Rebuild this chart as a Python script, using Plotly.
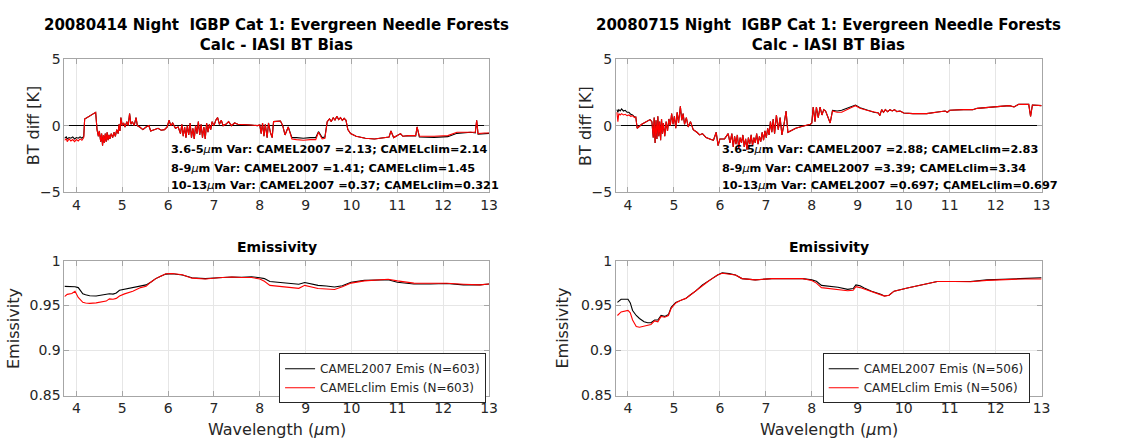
import plotly.graph_objects as go

# ---------------- data ----------------
# Top-left: 20080414 BT bias [K]
tl_wl = [3.74,3.78,3.80,3.84,3.88,3.92,3.96,4.00,4.04,4.08,
         4.12,4.16,4.18,4.30,4.42,4.45,4.48,4.50,4.53,4.55,
         4.57,4.59,4.61,4.63,4.65,4.67,4.69,4.71,4.73,4.76,
         4.79,4.82,4.85,4.88,4.91,4.93,4.95,4.97,5.00,5.03,
         5.06,5.10,5.13,5.16,5.19,5.22,5.26,5.30,5.33,5.38,
         5.45,5.52,5.58,5.62,5.70,5.78,5.85,5.92,5.98,6.02,
         6.06,6.10,6.16,6.22,6.27,6.30,6.33,6.36,6.39,6.42,
         6.45,6.48,6.51,6.54,6.57,6.60,6.63,6.66,6.69,6.72,
         6.75,6.78,6.81,6.84,6.87,6.90,6.93,6.96,7.00,7.04,
         7.08,7.12,7.16,7.20,7.26,7.32,7.38,7.45,7.52,7.65,
         7.80,7.95,8.00,8.03,8.06,8.09,8.12,8.16,8.19,8.23,
         8.27,8.30,8.45,8.50,8.55,8.62,8.70,8.80,8.95,9.10,
         9.22,9.28,9.36,9.42,9.47,9.52,9.56,9.60,9.64,9.68,
         9.72,9.76,9.80,9.84,9.88,9.92,9.98,10.10,10.30,10.50,
         10.70,10.82,10.86,10.92,11.07,11.12,11.25,11.40,11.43,11.48,
         11.80,12.10,12.30,12.50,12.60,12.70,12.73,12.76,12.90,13.00]
tl_clim = [-1.10,-1.00,-1.20,-1.00,-1.15,-1.05,-1.20,-1.05,-1.15,-1.00,
           -1.10,-0.90,0.50,0.75,1.00,-0.30,-0.80,-0.40,-1.20,-0.60,
           -1.50,-0.70,-1.30,-0.60,-1.20,-0.50,-1.10,-0.70,-1.00,-0.60,
           -0.90,-0.50,-0.80,-0.30,-0.60,0.10,-0.40,0.60,0.00,0.20,
           -0.10,0.30,0.00,0.90,0.10,0.30,0.00,0.60,0.00,-0.10,
           -0.30,-0.10,0.00,-0.40,-0.30,-0.20,-0.35,-0.30,-0.10,0.40,
           0.00,0.20,-0.20,-0.10,-0.60,0.10,-0.80,-0.10,-0.90,0.00,
           -0.70,0.20,-0.90,-0.20,-1.00,0.00,-0.60,0.30,-0.70,0.10,
           -0.90,-0.10,-1.00,0.20,-0.50,0.10,-0.30,0.30,0.00,0.40,
           0.60,0.10,0.40,0.00,0.10,0.30,0.00,0.20,0.10,0.10,
           0.05,0.00,0.05,-0.60,0.20,-0.80,0.10,-0.90,0.20,-0.50,
           -0.90,0.30,0.35,0.00,-0.70,-0.10,-1.00,-1.05,-1.10,-1.05,
           -1.05,-0.50,-1.00,-0.95,0.30,0.50,0.30,0.60,0.40,0.70,
           0.45,0.60,0.40,0.55,0.40,-0.30,-0.60,-0.80,-0.95,-1.00,
           -0.90,-0.85,-0.40,-0.90,-0.60,-0.80,-0.75,-0.75,-0.10,-0.80,
           -0.80,-0.75,-0.50,-0.50,-0.45,-0.50,0.40,-0.60,-0.55,-0.55]
tl_2007 = [-0.95,-0.85,-1.00,-0.90,-0.95,-0.85,-1.00,-0.90,-0.95,-0.85,
           -0.95,-0.80,0.50,0.75,1.00,-0.30,-0.80,-0.40,-1.20,-0.60,
           -1.50,-0.70,-1.30,-0.60,-1.20,-0.50,-1.10,-0.70,-1.00,-0.60,
           -0.90,-0.50,-0.80,-0.30,-0.60,0.10,-0.40,0.60,0.00,0.20,
           -0.10,0.30,0.00,0.90,0.10,0.30,0.00,0.60,0.00,-0.10,
           -0.30,-0.10,0.00,-0.40,-0.30,-0.20,-0.35,-0.30,-0.10,0.40,
           0.00,0.20,-0.20,-0.10,-0.60,0.10,-0.80,-0.10,-0.90,0.00,
           -0.70,0.20,-0.90,-0.20,-1.00,0.00,-0.60,0.30,-0.70,0.10,
           -0.90,-0.10,-1.00,0.20,-0.50,0.10,-0.30,0.30,0.00,0.40,
           0.60,0.10,0.40,0.00,0.10,0.30,0.00,0.20,0.10,0.10,
           0.05,0.00,0.05,-0.60,0.20,-0.80,0.10,-0.90,0.20,-0.50,
           -0.90,0.30,0.35,0.00,-0.70,-0.10,-0.90,-0.90,-0.95,-0.90,
           -0.90,-0.45,-0.90,-0.85,0.30,0.50,0.30,0.60,0.40,0.70,
           0.45,0.60,0.40,0.55,0.40,-0.30,-0.60,-0.80,-0.95,-1.00,
           -0.90,-0.85,-0.40,-0.90,-0.60,-0.80,-0.75,-0.78,-0.10,-0.85,
           -0.88,-0.83,-0.58,-0.55,-0.50,-0.55,0.40,-0.65,-0.58,-0.58]

# Top-right: 20080715 BT bias [K]
tr_wl = [3.76,3.78,3.80,3.83,3.86,3.90,3.94,3.98,4.02,4.06,
         4.10,4.14,4.17,4.20,4.30,4.40,4.48,4.52,4.55,4.57,
         4.59,4.61,4.63,4.65,4.67,4.69,4.71,4.73,4.75,4.77,
         4.80,4.83,4.86,4.89,4.92,4.95,4.98,5.01,5.04,5.07,
         5.10,5.14,5.17,5.20,5.23,5.27,5.31,5.36,5.42,5.50,
         5.56,5.62,5.70,5.78,5.86,5.92,5.96,6.00,6.10,6.18,
         6.22,6.26,6.29,6.32,6.35,6.38,6.41,6.44,6.47,6.50,
         6.53,6.56,6.59,6.62,6.65,6.68,6.71,6.74,6.77,6.80,
         6.83,6.86,6.89,6.92,6.95,6.98,7.01,7.04,7.07,7.10,
         7.13,7.16,7.19,7.23,7.27,7.31,7.35,7.40,7.44,7.48,
         7.55,7.65,7.80,7.97,8.00,8.03,8.07,8.10,8.14,8.18,
         8.22,8.26,8.30,8.36,8.40,8.45,8.55,8.65,8.75,8.85,
         8.95,9.05,9.20,9.35,9.45,9.48,9.52,9.56,9.60,9.65,
         9.70,9.75,9.80,9.85,9.92,10.00,10.20,10.50,10.70,10.90,
         10.95,11.00,11.30,11.50,11.60,11.85,12.10,12.30,12.40,12.50,
         12.72,12.76,12.80,13.00]
tr_clim = [1.00,0.30,0.90,0.80,0.90,0.80,0.85,0.75,0.80,0.70,
           0.75,0.60,0.65,-0.20,0.10,0.30,0.45,0.30,-0.90,0.60,
           -1.30,0.40,-1.00,0.70,-0.80,0.30,-1.10,0.50,-0.60,0.20,
           -0.80,0.30,-0.40,0.50,0.00,0.90,0.10,0.70,-0.20,1.00,
           0.20,1.45,0.40,0.90,0.10,0.60,-0.10,0.30,-0.30,-0.50,
           -0.70,-0.60,-0.90,-1.00,-1.10,-0.50,-1.50,-1.00,-1.00,-0.60,
           -1.30,-0.60,-1.60,-0.80,-1.40,-0.70,-1.70,-0.90,-1.30,-0.70,
           -1.60,-1.00,-1.80,-0.90,-1.40,-0.70,-1.50,-0.90,-1.30,-0.60,
           -1.40,-0.80,-1.20,-0.50,-1.10,-0.40,-0.90,-0.20,-0.70,0.30,
           -0.50,0.50,-0.60,0.80,-0.30,0.60,-0.70,0.20,1.10,-0.50,
           -0.40,-0.20,-0.05,0.10,0.20,1.40,0.30,1.40,0.60,1.40,
           0.80,1.20,1.10,0.60,0.20,1.10,1.00,1.00,1.20,1.35,
           1.50,1.30,1.15,1.00,0.95,0.75,1.20,1.00,1.20,1.05,
           1.20,1.10,1.20,1.05,1.10,0.95,0.90,0.90,1.00,1.10,
           1.00,1.15,1.20,1.20,1.30,1.40,1.45,1.50,1.40,1.60,
           1.60,0.70,1.55,1.50]
tr_2007 = [1.20,1.00,1.20,1.10,1.25,1.10,1.15,1.00,1.00,0.85,
           0.80,0.65,0.65,-0.20,0.10,0.30,0.45,0.30,-0.90,0.60,
           -1.30,0.40,-1.00,0.70,-0.80,0.30,-1.10,0.50,-0.60,0.20,
           -0.80,0.30,-0.40,0.50,0.00,0.90,0.10,0.70,-0.20,1.00,
           0.20,1.45,0.40,0.90,0.10,0.60,-0.10,0.30,-0.30,-0.50,
           -0.70,-0.60,-0.90,-1.00,-1.10,-0.50,-1.50,-1.00,-1.00,-0.60,
           -1.30,-0.60,-1.60,-0.80,-1.40,-0.70,-1.70,-0.90,-1.30,-0.70,
           -1.60,-1.00,-1.80,-0.90,-1.40,-0.70,-1.50,-0.90,-1.30,-0.60,
           -1.40,-0.80,-1.20,-0.50,-1.10,-0.40,-0.90,-0.20,-0.70,0.30,
           -0.50,0.50,-0.60,0.80,-0.30,0.60,-0.70,0.20,1.10,-0.50,
           -0.40,-0.20,-0.05,0.10,0.20,1.40,0.30,1.40,0.60,1.40,
           0.80,1.20,1.10,0.60,0.20,1.15,1.10,1.15,1.30,1.45,
           1.55,1.35,1.15,1.00,0.95,0.75,1.20,1.00,1.20,1.05,
           1.20,1.10,1.20,1.05,1.10,0.95,0.90,0.90,1.00,1.10,
           1.00,1.15,1.20,1.20,1.30,1.40,1.45,1.50,1.40,1.60,
           1.60,0.70,1.55,1.50]

# Bottom-left: emissivity (N=603)
bl_wl = [3.74,3.80,3.90,3.97,4.04,4.10,4.14,4.20,4.29,4.43,
         4.55,4.65,4.72,4.80,4.87,4.94,5.05,5.23,5.40,5.52,
         5.62,5.73,5.85,5.95,6.09,6.31,6.52,6.81,7.10,7.39,
         7.60,7.82,8.00,8.10,8.22,8.47,8.69,8.85,8.98,9.10,
         9.27,9.45,9.63,9.80,9.99,10.28,10.64,10.80,11.00,11.36,
         11.72,12.08,12.44,12.80,13.00]
bl_2007 = [.9714,.9714,.9712,.9710,.9700,.9660,.9630,.9620,.9610,.9607,
           .9615,.9625,.9632,.9628,.9640,.9670,.9680,.9700,.9720,.9730,
           .9760,.9800,.9830,.9850,.9854,.9840,.9810,.9800,.9810,.9818,
           .9815,.9820,.9810,.9800,.9768,.9757,.9740,.9738,.9757,.9745,
           .9725,.9718,.9707,.9720,.9760,.9780,.9790,.9788,.9760,.9740,
           .9740,.9745,.9730,.9730,.9740]
bl_clim = [.9600,.9625,.9635,.9660,.9590,.9550,.9536,.9528,.9525,.9530,
           .9545,.9550,.9575,.9570,.9580,.9607,.9630,.9660,.9700,.9714,
           .9760,.9800,.9830,.9854,.9856,.9842,.9805,.9796,.9810,.9818,
           .9812,.9812,.9796,.9770,.9725,.9710,.9696,.9692,.9725,.9710,
           .9690,.9685,.9679,.9710,.9750,.9775,.9790,.9792,.9775,.9750,
           .9748,.9748,.9738,.9730,.9740]

# Bottom-right: emissivity (N=506)
br_wl = [3.77,3.85,4.00,4.05,4.10,4.18,4.25,4.35,4.43,4.50,
         4.58,4.65,4.72,4.80,4.88,4.94,5.04,5.15,5.26,5.36,
         5.47,5.62,5.72,5.83,5.95,6.05,6.20,6.34,6.48,6.77,
         7.13,7.49,7.80,8.00,8.10,8.21,8.40,8.57,8.78,8.90,
         8.96,9.05,9.14,9.30,9.50,9.58,9.68,9.79,10.08,10.37,
         10.73,11.09,11.45,11.81,12.17,12.53,13.00]
br_2007 = [.9536,.9570,.9570,.9530,.9446,.9390,.9357,.9320,.9310,.9310,
           .9340,.9340,.9390,.9380,.9400,.9480,.9536,.9560,.9580,.9620,
           .9660,.9730,.9760,.9800,.9840,.9864,.9855,.9840,.9800,.9786,
           .9800,.9800,.9800,.9786,.9770,.9725,.9715,.9704,.9680,.9690,
           .9730,.9720,.9696,.9660,.9625,.9607,.9615,.9660,.9696,.9730,
           .9768,.9768,.9768,.9786,.9796,.9800,.9810]
br_clim = [.9390,.9430,.9446,.9420,.9340,.9268,.9260,.9270,.9286,.9290,
           .9330,.9320,.9380,.9370,.9390,.9470,.9530,.9560,.9580,.9620,
           .9660,.9730,.9760,.9800,.9840,.9860,.9850,.9840,.9800,.9786,
           .9800,.9800,.9800,.9780,.9750,.9700,.9690,.9680,.9665,.9670,
           .9710,.9700,.9685,.9655,.9620,.9605,.9615,.9660,.9696,.9730,
           .9768,.9768,.9765,.9780,.9790,.9795,.9796]

x_ticks = [4, 5, 6, 7, 8, 9, 10, 11, 12, 13]
bt_ticks = [-5, 0, 5]
em_ticks = [0.85, 0.9, 0.95, 1]
em_ticktext = ["0.85", "0.9", "0.95", "1"]

titles = ["20080414 Night\u00a0 IGBP Cat 1: Evergreen Needle Forests",
          "20080715 Night\u00a0 IGBP Cat 1: Evergreen Needle Forests"]
subtitle = "Calc - IASI BT Bias"
var_text_left = ["<b>3.6-5</b><i>\u03bc</i><b>m Var: CAMEL2007 =2.13; CAMELclim=2.14</b>",
                 "<b>8-9</b><i>\u03bc</i><b>m Var: CAMEL2007 =1.41; CAMELclim=1.45</b>",
                 "<b>10-13</b><i>\u03bc</i><b>m Var: CAMEL2007 =0.37; CAMELclim=0.321</b>"]
var_text_right = ["<b>3.6-5</b><i>\u03bc</i><b>m Var: CAMEL2007 =2.88; CAMELclim=2.83</b>",
                  "<b>8-9</b><i>\u03bc</i><b>m Var: CAMEL2007 =3.39; CAMELclim=3.34</b>",
                  "<b>10-13</b><i>\u03bc</i><b>m Var: CAMEL2007 =0.697; CAMELclim=0.697</b>"]

# ---------------- layout geometry ----------------
W, H = 1125, 446
FONT = "DejaVu Sans"
BLACK = "#000000"
RED = "#ff0000"
AX = "#a6a6a6"
TXT = "#262626"

def fx(p):
    return p / W

def fy(p):
    return 1 - p / H

left_dom = [fx(65), fx(493)]
right_dom = [fx(621), fx(1050)]
top_dom = [fy(191), fy(53)]
bot_dom = [fy(402), fy(262)]

fig = go.Figure()

def add_pair(x, y07, yclim, xa, ya, n=None, legend=None):
    show = n is not None
    fig.add_trace(go.Scatter(x=x, y=y07, mode="lines", xaxis=xa, yaxis=ya,
                             line=dict(color=BLACK, width=1.1),
                             name=f"CAMEL2007 Emis (N={n})" if show else "CAMEL2007",
                             showlegend=show, legend=legend if show else None))
    fig.add_trace(go.Scatter(x=x, y=yclim, mode="lines", xaxis=xa, yaxis=ya,
                             line=dict(color=RED, width=1.1),
                             name=f"CAMELclim Emis (N={n})" if show else "CAMELclim",
                             showlegend=show, legend=legend if show else None))

add_pair(tl_wl, tl_2007, tl_clim, "x", "y")
add_pair(tr_wl, tr_2007, tr_clim, "x2", "y2")
add_pair(bl_wl, bl_2007, bl_clim, "x3", "y3", n=603, legend="legend")
add_pair(br_wl, br_2007, br_clim, "x4", "y4", n=506, legend="legend2")

common = dict(showline=True, linecolor=AX, linewidth=1, mirror="ticks",
              ticks="inside", ticklen=5, tickcolor=AX, tickwidth=1,
              tickfont=dict(family=FONT, size=14, color=TXT),
              gridcolor="#e6e6e6", gridwidth=1, zeroline=False)

def xax(dom, anchor):
    return dict(common, domain=dom, anchor=anchor, range=[3.74, 13],
                tickvals=x_ticks, showgrid=True)

def ybt(dom, anchor):
    return dict(common, domain=dom, anchor=anchor, range=[-5, 5], tickvals=bt_ticks,
                showgrid=False, zeroline=True, zerolinecolor=BLACK, zerolinewidth=1)

def yem(dom, anchor):
    return dict(common, domain=dom, anchor=anchor, range=[0.85, 1], tickvals=em_ticks,
                ticktext=em_ticktext, showgrid=True)

wl_title = "Wavelength (<i>\u03bc</i>m)"
axis_title_font = dict(family=FONT, size=16, color=TXT)

annotations = []
for cx, t in zip([(65 + 493) / 2, (621 + 1050) / 2], titles):
    annotations.append(dict(x=fx(cx), y=fy(28.5), xref="paper", yref="paper",
                            text=f"<b>{t}<br>{subtitle}</b>", showarrow=False,
                            xanchor="center", yanchor="middle",
                            font=dict(family=FONT, size=15, color=BLACK)))
    annotations.append(dict(x=fx(cx), y=fy(248), xref="paper", yref="paper",
                            text="<b>Emissivity</b>", showarrow=False,
                            xanchor="center", yanchor="middle",
                            font=dict(family=FONT, size=14, color=BLACK)))
    annotations.append(dict(x=fx(cx), y=fy(437), xref="paper", yref="paper",
                            text=wl_title, showarrow=False,
                            xanchor="center", yanchor="middle", font=axis_title_font))
for xc in [34, 590]:
    annotations.append(dict(x=fx(xc), y=fy(122), xref="paper", yref="paper",
                            text="BT diff [K]", textangle=-90, showarrow=False,
                            xanchor="center", yanchor="middle", font=axis_title_font))
for xc in [13, 567]:
    annotations.append(dict(x=fx(xc), y=fy(332), xref="paper", yref="paper",
                            text="Emissivity", textangle=-90, showarrow=False,
                            xanchor="center", yanchor="middle", font=axis_title_font))
for x0, texts in [(170, var_text_left), (726, var_text_right)]:
    for yy, t in zip([147, 166, 184], texts):
        annotations.append(dict(x=fx(x0), y=fy(yy), xref="paper", yref="paper",
                                text=t, showarrow=False, xanchor="left", yanchor="middle",
                                font=dict(family=FONT, size=11.3, color=BLACK)))

leg_common = dict(xanchor="right", yanchor="middle", bgcolor="white",
                  bordercolor=TXT, borderwidth=1,
                  font=dict(family=FONT, size=12, color=TXT), tracegroupgap=0)

fig.update_layout(
    width=W, height=H, margin=dict(l=0, r=0, t=0, b=0),
    paper_bgcolor="white", plot_bgcolor="white",
    xaxis=xax(left_dom, "y"),
    yaxis=ybt(top_dom, "x"),
    xaxis2=xax(right_dom, "y2"),
    yaxis2=ybt(top_dom, "x2"),
    xaxis3=xax(left_dom, "y3"),
    yaxis3=yem(bot_dom, "x3"),
    xaxis4=xax(right_dom, "y4"),
    yaxis4=yem(bot_dom, "x4"),
    legend=dict(leg_common, x=fx(490), y=fy(384)),
    legend2=dict(leg_common, x=fx(1038), y=fy(384)),
    annotations=annotations,
    font=dict(family=FONT, color=TXT),
)

fig.write_html("out.html")
